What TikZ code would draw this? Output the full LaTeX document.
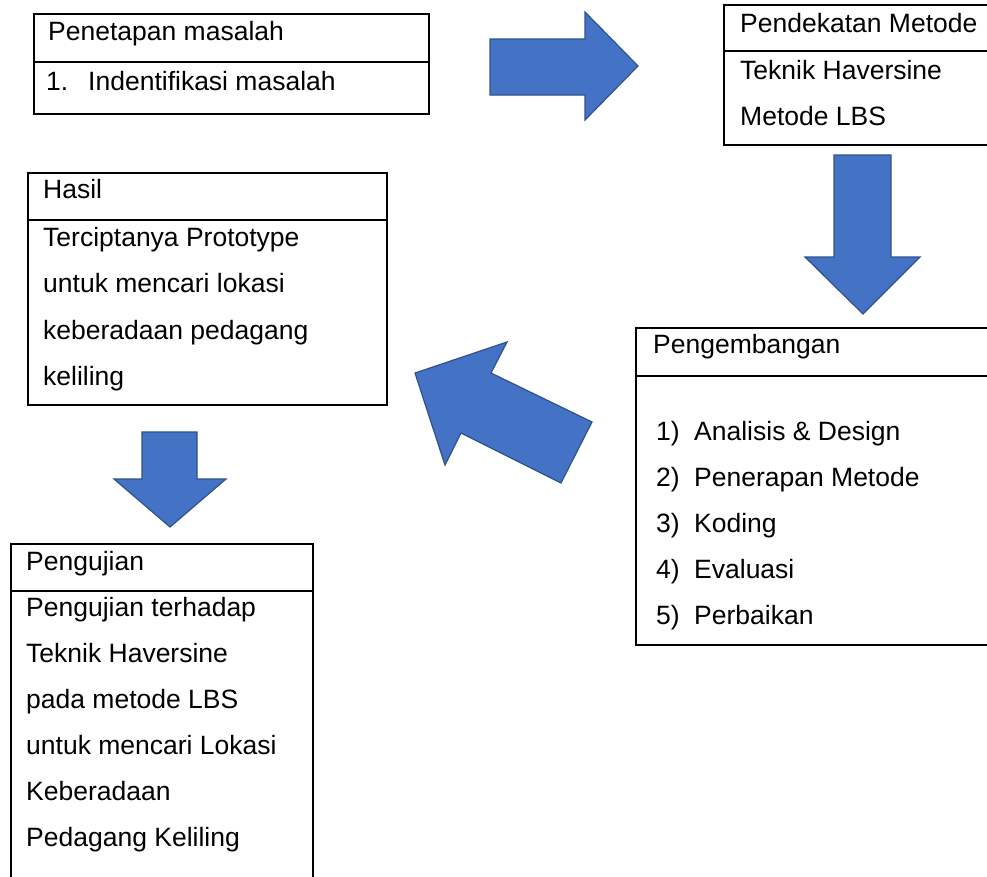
\documentclass[tikz,border=0pt]{standalone}
\usepackage{fontspec}
\setmainfont{Liberation Sans}
\definecolor{arrowfill}{HTML}{4472C4}
\definecolor{arrowline}{HTML}{2F528F}
\tikzset{
  boxline/.style={draw=black, line width=1.6pt},
  blockarrow/.style={fill=arrowfill, draw=arrowline, line width=1.2pt, line join=miter},
  txt/.style={anchor=base west, inner sep=0pt, font=\fontsize{26.5}{30}\selectfont}
}
\begin{document}
\begin{tikzpicture}[x=1pt,y=-1pt]
\useasboundingbox (0,0) rectangle (987,876);
\clip (0,0) rectangle (987,876);
\fill[white] (0,0) rectangle (987,876);

% Box 1: Penetapan masalah
\draw[boxline] (34,14) rectangle (429,114);
\draw[boxline] (34,62) -- (429,62);
\node[txt] (b1h) at (48,40) {Penetapan masalah};
\node[txt] (b1n) at (46,90) {1.};
\node[txt] (b1a) at (88,90) {Indentifikasi masalah};

% Box 2: Pendekatan Metode
\draw[boxline] (1000,5) -- (724,5) -- (724,145) -- (1000,145);
\draw[boxline] (724,51) -- (1000,51);
\node[txt] (b2h) at (740,32) {Pendekatan Metode};
\node[txt] (b2a) at (740,79) {Teknik Haversine};
\node[txt] (b2b) at (740,125) {Metode LBS};

% Box 3: Hasil
\draw[boxline] (28,173) rectangle (387,405);
\draw[boxline] (28,220) -- (387,220);
\node[txt] (b3h) at (43,198) {Hasil};
\node[txt] (b3a) at (43,246) {Terciptanya Prototype};
\node[txt] (b3b) at (43,292.5) {untuk mencari lokasi};
\node[txt] (b3c) at (43,339) {keberadaan pedagang};
\node[txt] (b3d) at (43,385) {keliling};

% Box 4: Pengembangan
\draw[boxline] (1000,328) -- (636,328) -- (636,645) -- (1000,645);
\draw[boxline] (636,376) -- (1000,376);
\node[txt] (b4h) at (653,353) {Pengembangan};
\node[txt] (b4n1) at (656,440) {1)};
\node[txt] (b4a) at (694,440) {Analisis \& Design};
\node[txt] (b4n2) at (656,486) {2)};
\node[txt] (b4b) at (694,486) {Penerapan Metode};
\node[txt] (b4n3) at (656,532) {3)};
\node[txt] (b4c) at (694,532) {Koding};
\node[txt] (b4n4) at (656,578) {4)};
\node[txt] (b4d) at (694,578) {Evaluasi};
\node[txt] (b4n5) at (656,624) {5)};
\node[txt] (b4e) at (694,624) {Perbaikan};

% Box 5: Pengujian
\draw[boxline] (11,890) -- (11,544) -- (313,544) -- (313,890);
\draw[boxline] (11,591) -- (313,591);
\node[txt] (b5h) at (26,570) {Pengujian};
\node[txt] (b5a) at (26,616) {Pengujian terhadap};
\node[txt] (b5b) at (26,662) {Teknik Haversine};
\node[txt] (b5c) at (26,708) {pada metode LBS};
\node[txt] (b5d) at (26,754) {untuk mencari Lokasi};
\node[txt] (b5e) at (26,800) {Keberadaan};
\node[txt] (b5f) at (26,846) {Pedagang Keliling};

% Block arrows
\draw[blockarrow] (490,39) -- (585,39) -- (585,12) -- (638,66) -- (585,120) -- (585,95) -- (490,95) -- cycle;
\draw[blockarrow] (834,155) -- (891,155) -- (891,257) -- (920,257) -- (863,314) -- (805,257) -- (834,257) -- cycle;
\draw[blockarrow] (415,373) -- (507,342) -- (491,373) -- (592,422) -- (561,483) -- (461,433) -- (445,465) -- cycle;
\draw[blockarrow] (142,432) -- (197,432) -- (197,479) -- (226,479) -- (170,527) -- (114,479) -- (142,479) -- cycle;
\end{tikzpicture}
\end{document}
